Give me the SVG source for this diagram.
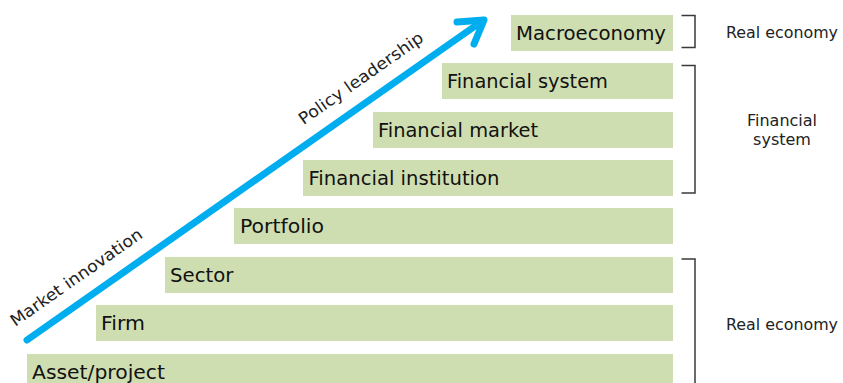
<svg xmlns="http://www.w3.org/2000/svg" width="843" height="383" viewBox="0 0 843 383">
<style>
.box{fill:#cfdeb0}
.lbl{font-family:"DejaVu Sans","Liberation Sans",sans-serif;font-size:19px;fill:#111}
.side{font-family:"DejaVu Sans","Liberation Sans",sans-serif;font-size:16px;fill:#222}
.diag{font-family:"DejaVu Sans","Liberation Sans",sans-serif;font-size:16.5px;fill:#222}
.br{fill:none;stroke:#3a3a3a;stroke-width:1.5}
.arrow{fill:none;stroke:#00aeef;stroke-width:7;stroke-linecap:round;stroke-linejoin:round}
</style>
<rect width="843" height="383" fill="#fff"/>
<g id="macroeconomy"><rect class="box" x="511" y="15" width="162" height="36"/><text class="lbl" x="516" y="39.5" textLength="150" lengthAdjust="spacingAndGlyphs">Macroeconomy</text></g>
<g id="financial-system"><rect class="box" x="442" y="63" width="231" height="36"/><text class="lbl" x="447" y="87.5" textLength="161" lengthAdjust="spacingAndGlyphs">Financial system</text></g>
<g id="financial-market"><rect class="box" x="373" y="112" width="300" height="36"/><text class="lbl" x="378" y="136.5" textLength="160" lengthAdjust="spacingAndGlyphs">Financial market</text></g>
<g id="financial-institution"><rect class="box" x="303" y="160" width="370" height="36"/><text class="lbl" x="308.5" y="184.5" textLength="191" lengthAdjust="spacingAndGlyphs">Financial institution</text></g>
<g id="portfolio"><rect class="box" x="234" y="208" width="439" height="36"/><text class="lbl" x="240" y="232.5" textLength="84" lengthAdjust="spacingAndGlyphs">Portfolio</text></g>
<g id="sector"><rect class="box" x="165" y="257" width="508" height="36"/><text class="lbl" x="170" y="281.5" textLength="63.5" lengthAdjust="spacingAndGlyphs">Sector</text></g>
<g id="firm"><rect class="box" x="96" y="305" width="577" height="36"/><text class="lbl" x="101" y="329.5" textLength="44" lengthAdjust="spacingAndGlyphs">Firm</text></g>
<g id="asset-project"><rect class="box" x="27" y="354" width="646" height="36"/><text class="lbl" x="32" y="378.5" textLength="133" lengthAdjust="spacingAndGlyphs">Asset/project</text></g>
<g id="bracket-real-top"><path class="br" d="M681.5,15.5 H695 V47.5 H681.5"/><text class="side" x="726" y="37.5" textLength="112" lengthAdjust="spacingAndGlyphs">Real economy</text></g>
<g id="bracket-financial"><path class="br" d="M681.5,65.5 H695 V193 H681.5"/><text class="side" x="782" y="125.5" text-anchor="middle">Financial</text><text class="side" x="782" y="144.5" text-anchor="middle">system</text></g>
<g id="bracket-real-bottom"><path class="br" d="M681.5,259 H695 V395"/><text class="side" x="726" y="330" textLength="112" lengthAdjust="spacingAndGlyphs">Real economy</text></g>
<g id="connectors">
<line class="arrow" x1="27" y1="340" x2="483" y2="20.5"/>
<polyline class="arrow" points="457,22 484,20 474,44"/>
<text class="diag" transform="translate(303.5,125.3) rotate(-35)" textLength="148" lengthAdjust="spacingAndGlyphs">Policy leadership</text>
<text class="diag" transform="translate(15.2,327) rotate(-35)" textLength="157" lengthAdjust="spacingAndGlyphs">Market innovation</text>
</g>
</svg>
